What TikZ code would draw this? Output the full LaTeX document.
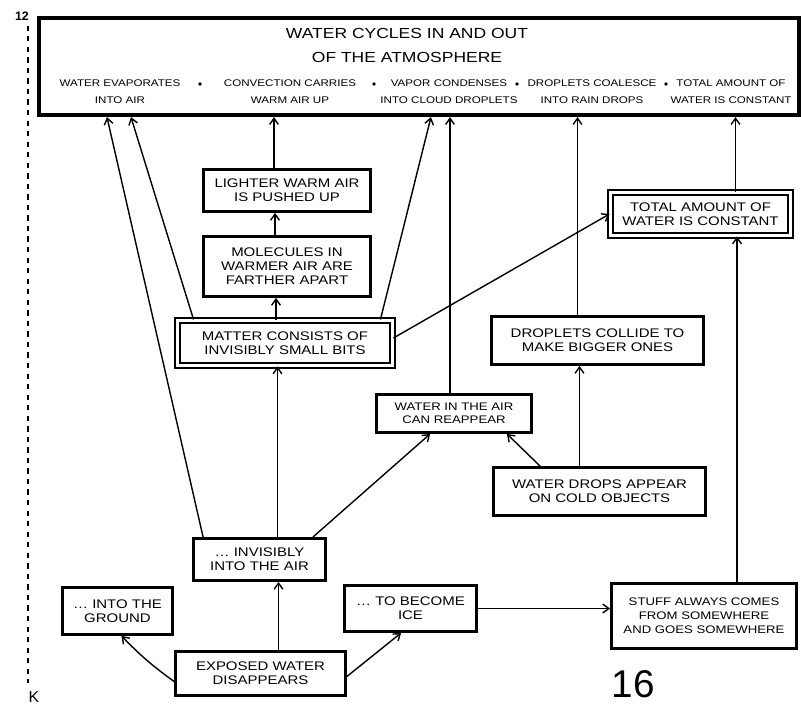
\documentclass[tikz,border=0pt]{standalone}
\usepackage{fontspec}
\setmainfont{Liberation Sans}
\newfontfamily\hand[FakeStretch=1.2]{Liberation Sans}
\usetikzlibrary{arrows.meta, positioning, calc}

\begin{document}
\begin{tikzpicture}[
  x=0.02cm, y=-0.02cm,
  box/.style={draw, line width=1.6pt, align=center, inner sep=1pt, font=\hand\fontsize{7.1}{8}\selectfont},
  dbox/.style={box, line width=1.1pt, double, double distance=1.8pt},
  col/.style={align=center, inner sep=0pt, font=\hand\fontsize{5.5}{9.6}\selectfont},
  dot/.style={circle, fill, inner sep=0pt, minimum size=2.2pt},
  arr/.style={-{Straight Barb[length=3.5pt,width=5pt]}, line width=0.8pt}
]
  \useasboundingbox (0,0) rectangle (801,706);

  % margin marks
  \node[font=\bfseries\fontsize{7}{7}\selectfont, inner sep=0pt] (n12) at (22,16) {12};
  \node[font=\fontsize{9}{9}\selectfont, inner sep=0pt] (nk) at (34,697) {K};
  \draw[dashed, line width=0.8pt] ($(n12.south)+(6,5)$) -- ($(nk.north)+(-6,-8)$);

  % top box
  \node[draw, line width=2.4pt, minimum width=15.2cm, minimum height=1.94cm] (top) at (419,66.5) {};
  \node[align=center, inner sep=0pt, font=\hand\fontsize{8.3}{14}\selectfont] (title) at (407,45.5) {WATER CYCLES IN AND OUT\\OF THE ATMOSPHERE};
  \node[col] (c1) at (120,91.5) {WATER EVAPORATES\\INTO AIR};
  \node[col] (c2) at (290,91.5) {CONVECTION CARRIES\\WARM AIR UP};
  \node[col] (c3) at (449,91.5) {VAPOR CONDENSES\\INTO CLOUD DROPLETS};
  \node[col] (c4) at (592,91.5) {DROPLETS COALESCE\\INTO RAIN DROPS};
  \node[col] (c5) at (731,91.5) {TOTAL AMOUNT OF\\WATER IS CONSTANT};
  \node[dot] (b1) at (200,84) {};
  \node[dot] (b2) at (374,84) {};
  \node[dot] (b3) at (517,84) {};
  \node[dot] (b4) at (666,84) {};

  % boxes
  \node[box, minimum width=3.34cm, minimum height=0.84cm] (lighter) at (287,190.5) {LIGHTER WARM AIR\\IS PUSHED UP};
  \node[box, minimum width=3.34cm, minimum height=1.2cm] (molecules) at (287,266.5) {MOLECULES IN\\WARMER AIR ARE\\FARTHER APART};
  \node[dbox, minimum width=4.3cm, minimum height=0.9cm] (matter) at (285,343) {MATTER CONSISTS OF\\INVISIBLY SMALL BITS};
  \node[dbox, minimum width=3.6cm, minimum height=0.86cm] (total) at (700.5,214) {TOTAL AMOUNT OF\\WATER IS CONSTANT};
  \node[box, minimum width=4.24cm, minimum height=0.96cm] (collide) at (597.5,340.5) {DROPLETS COLLIDE TO\\MAKE BIGGER ONES};
  \node[box, minimum width=3.1cm, minimum height=0.76cm, font=\hand\fontsize{6.25}{7.5}\selectfont] (waterair) at (454,413.5) {WATER IN THE AIR\\CAN REAPPEAR};
  \node[box, minimum width=4.24cm, minimum height=0.96cm] (drops) at (599.5,491.5) {WATER DROPS APPEAR\\ON COLD OBJECTS};
  \node[box, minimum width=2.64cm, minimum height=0.84cm] (invis) at (259.5,559.5) {\dots\ INVISIBLY\\INTO THE AIR};
  \node[box, minimum width=2.2cm, minimum height=0.94cm] (ground) at (117.5,611) {\dots\ INTO THE\\GROUND};
  \node[box, minimum width=2.64cm, minimum height=0.92cm] (ice) at (410.5,608.5) {\dots\ TO BECOME\\ICE};
  \node[box, minimum width=3.7cm, minimum height=1.3cm, font=\hand\fontsize{6.25}{8}\selectfont] (stuff) at (704,616) {STUFF ALWAYS COMES\\FROM SOMEWHERE\\AND GOES SOMEWHERE};
  \node[box, minimum width=3.4cm, minimum height=0.88cm] (exposed) at (260.5,673.5) {EXPOSED WATER\\DISAPPEARS};

  \node[font=\fontsize{22}{22}\selectfont, inner sep=0pt] (page) at (633,684) {16};

  % links into the top box
  \draw[arr] ($(invis.north west)+(11,0)$) -- ($(top.south west)+(70,0)$);
  \draw[arr] ($(matter.north west)+(17,0)$) -- ($(top.south west)+(94,0)$);
  \draw[arr] ($(lighter.north)+(-13,0)$) coordinate (s1) -- (s1 |- top.south);
  \draw[arr] ($(matter.north east)+(-13,0)$) -- ($(top.south west)+(394,0)$);
  \draw[arr] ($(waterair.north)+(-4,0)$) coordinate (s2) -- (s2 |- top.south);
  \draw[arr] ($(collide.north)+(-20,0)$) coordinate (s3) -- (s3 |- top.south);
  \draw[arr] ($(total.north)+(35,0)$) coordinate (s4) -- (s4 |- top.south);

  % links between the boxes
  \draw[arr] ($(molecules.north)+(-12,0)$) coordinate (s5) -- (s5 |- lighter.south);
  \draw[arr] ($(matter.north)+(-9,0)$) coordinate (s6) -- (s6 |- molecules.south);
  \draw[arr] ($(matter.east)+(0,-5)$) -- (total.west);
  \draw[arr] ($(stuff.north)+(33,0)$) coordinate (s7) -- (s7 |- total.south);
  \draw[arr] ($(drops.north)+(-20,0)$) coordinate (s8) -- (s8 |- collide.south);
  \draw[arr] ($(drops.north west)+(48,0)$) -- ($(waterair.south east)+(-26,0)$);
  \draw[arr] ($(invis.north east)+(-14,0)$) -- ($(waterair.south west)+(55,0)$);
  \draw[arr] ($(invis.north)+(18,0)$) coordinate (s9) -- (s9 |- matter.south);
  \draw[arr] ($(exposed.north)+(18,0)$) coordinate (s10) -- (s10 |- invis.south);
  \draw[arr] ($(exposed.west)+(0,8)$) to[bend left=5] ($(ground.south)+(4,0)$);
  \draw[arr] ($(exposed.east)+(0,3)$) -- ($(ice.south west)+(58,0)$);
  \draw[arr] (ice.east) -- (ice.east -| stuff.west);
\end{tikzpicture}
\end{document}
